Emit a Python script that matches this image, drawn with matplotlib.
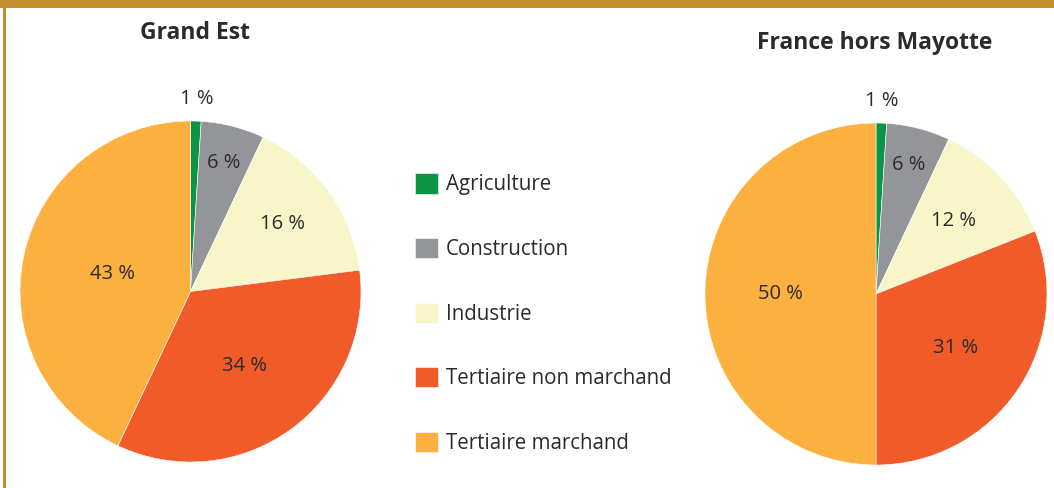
import matplotlib.pyplot as plt
import numpy as np
from matplotlib.patches import Rectangle

categories = ["Agriculture", "Construction", "Industrie",
              "Tertiaire non marchand", "Tertiaire marchand"]
grand_est = [1, 6, 16, 34, 43]
france = [1, 6, 12, 31, 50]
titles = ["Grand Est", "France hors Mayotte"]

colors = ["#0e9447", "#939598", "#f8f6c9", "#f15a29", "#fbb040"]
# radial position of each percent label (fraction of radius)
label_r = [[1.13, 0.78, 0.67, 0.54, 0.47],
           [1.13, 0.78, 0.62, 0.56, 0.56]]

plt.rcParams["font.family"] = ["Open Sans", "DejaVu Sans"]
text_color = "#2b2b2b"
gold = "#c38f2c"

W, H = 1054, 488
fig = plt.figure(figsize=(W / 100, H / 100), dpi=100)

# decorative frame: thick top band, thin left rule
fig.add_artist(Rectangle((0, 1 - 8 / H), 1, 8 / H, transform=fig.transFigure,
                         color=gold, lw=0))
fig.add_artist(Rectangle((3 / W, 0), 3 / W, 1, transform=fig.transFigure,
                         color=gold, lw=0))


def draw_pie(rect, values, radii):
    ax = fig.add_axes(rect)
    wedges, _ = ax.pie(values, colors=colors, startangle=90, counterclock=False,
                       radius=1, wedgeprops=dict(edgecolor="white", linewidth=0.4))
    for w, v, r in zip(wedges, values, radii):
        mid = np.deg2rad((w.theta1 + w.theta2) / 2)
        ax.text(r * np.cos(mid), r * np.sin(mid), f"{v} %", ha="center",
                va="center", fontsize=14.5, color=text_color)
    ax.set_xlim(-1, 1)
    ax.set_ylim(-1, 1)
    ax.set_aspect("equal")
    ax.axis("off")
    return wedges


wedges = draw_pie([20 / W, 26 / H, 341 / W, 341 / H], grand_est, label_r[0])
draw_pie([705 / W, 23 / H, 342 / W, 342 / H], france, label_r[1])

fig.text(195 / W, 1 - 33 / H, titles[0], ha="center", va="center",
         fontsize=16.5, fontweight="bold", color=text_color)
fig.text(875 / W, 1 - 43 / H, titles[1], ha="center", va="center",
         fontsize=16.5, fontweight="bold", color=text_color)

fig.legend(wedges, categories, loc="upper left", bbox_to_anchor=(396 / W, 1 - 155 / H),
           frameon=False, fontsize=14.8, handlelength=1.12, handleheight=1.12,
           handletextpad=0.42, labelspacing=2.07, labelcolor=text_color)

fig.savefig("out.png", dpi=100)
